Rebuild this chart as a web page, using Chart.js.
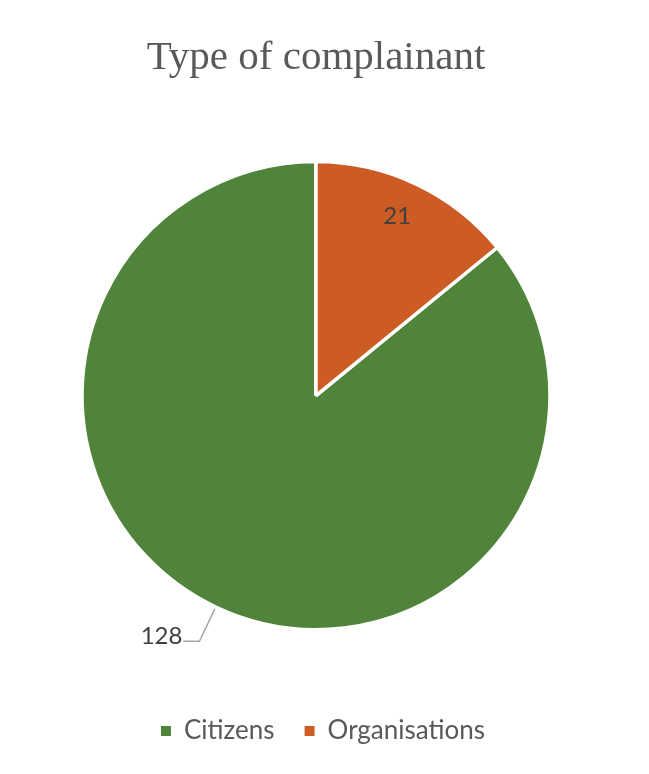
<!DOCTYPE html>
<html>
<head>
<meta charset="utf-8">
<script src="https://cdn.jsdelivr.net/npm/chart.js@4"></script>
<style>
  html, body { margin: 0; padding: 0; background: #fff; }
  #wrap { width: 649px; height: 774px; }
</style>
</head>
<body>
<div id="wrap"><canvas id="pieChart" width="649" height="774"></canvas></div>
<script>
const categories = ['Citizens', 'Organisations'];
const counts = [128, 21];
const sliceColors = ['#50843A', '#CD5C24'];

const total = counts.reduce((a, b) => a + b, 0);

// value labels: small one inside the slice, big one outside with a leader line
const valueLabels = {
    id: 'valueLabels',
    afterDatasetsDraw(chart) {
        const ctx = chart.ctx;
        const arcs = chart.getDatasetMeta(0).data;
        ctx.save();
        ctx.font = '24px Lato, "Liberation Sans", sans-serif';
        ctx.fillStyle = '#404040';
        ctx.textBaseline = 'middle';
        arcs.forEach((arc, i) => {
            const mid = (arc.startAngle + arc.endAngle) / 2;
            const cx = arc.x, cy = arc.y, r = arc.outerRadius;
            const dx = Math.cos(mid), dy = Math.sin(mid);
            if (counts[i] / total < 0.5) {
                ctx.textAlign = 'center';
                ctx.fillText(String(counts[i]), cx + dx * r * 0.85 - 4, cy + dy * r * 0.85);
            } else {
                const sx = cx + dx * (r + 2), sy = cy + dy * (r + 2);
                const ex = cx + dx * (r + 38), ey = cy + dy * (r + 38);
                ctx.strokeStyle = '#A6A6A6';
                ctx.lineWidth = 1.5;
                ctx.beginPath();
                ctx.moveTo(sx, sy);
                ctx.lineTo(ex, ey);
                ctx.lineTo(ex - 16, ey);
                ctx.stroke();
                ctx.textAlign = 'right';
                ctx.fillText(String(counts[i]), ex - 17, ey - 5);
            }
        });
        ctx.restore();
    }
};

// the legend sits centred on the page, not on the (left-shifted) pie
const legendShift = {
    id: 'legendShift',
    afterLayout(chart) {
        chart.legend.left += 7;
        chart.legend.right += 7;
    }
};

new Chart(document.getElementById('pieChart').getContext('2d'), {
    type: 'pie',
    data: {
        labels: categories,
        datasets: [{
            data: counts,
            backgroundColor: sliceColors,
            borderColor: '#ffffff',
            borderWidth: 3.5
        }]
    },
    options: {
        responsive: false,
        animation: false,
        rotation: counts[1] / total * 360,
        radius: 234,
        layout: {
            padding: { left: 0, right: 17, top: 0, bottom: 20 }
        },
        plugins: {
            title: {
                display: true,
                text: 'Type of complainant',
                color: '#595959',
                font: { family: '"Liberation Serif", serif', size: 41, weight: 'normal' },
                padding: { top: 34, bottom: 20 }
            },
            legend: {
                position: 'bottom',
                labels: {
                    color: '#595959',
                    font: { family: 'Lato, "Liberation Sans", sans-serif', size: 26 },
                    boxWidth: 10,
                    boxHeight: 10,
                    padding: 30,
                    generateLabels: () => categories.map((c, i) => ({
                        text: c,
                        fillStyle: sliceColors[i],
                        strokeStyle: sliceColors[i],
                        lineWidth: 0,
                        fontColor: '#595959',
                        index: i
                    }))
                }
            },
            tooltip: { enabled: false }
        }
    },
    plugins: [valueLabels, legendShift]
});
</script>
</body>
</html>
